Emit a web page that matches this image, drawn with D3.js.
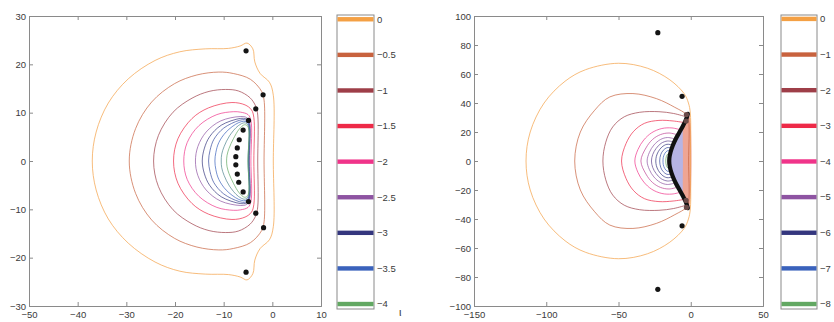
<!DOCTYPE html>
<html>
<head>
<meta charset="utf-8">
<script src="https://cdn.jsdelivr.net/npm/d3@7"></script>
<style>
	body { margin: 0; background: #fff; }
	svg { display: block; }
	text { font-family: "Liberation Sans", Arial, sans-serif; fill: #3a3a3a; }
</style>
</head>
<body>
<svg id="chart" width="834" height="322"></svg>
<script>

// colour bar levels, one colour for each
var leftLevels = [0, -0.5, -1, -1.5, -2, -2.5, -3, -3.5, -4];
var rightLevels = [0, -1, -2, -3, -4, -5, -6, -7, -8];
var levelColors = ['#f4a044', '#c8623e', '#9e3e48', '#ee2a48', '#f0348a', '#8e54a2', '#34367e', '#3a62bc', '#62a862'];

// tick labels
var leftXTicks = [-50, -40, -30, -20, -10, 0, 10];
var leftYTicks = [-30, -20, -10, 0, 10, 20, 30];
var rightXTicks = [-150, -100, -50, 0, 50];
var rightYTicks = [-100, -80, -60, -40, -20, 0, 20, 40, 60, 80, 100];

// left plot: sources
var leftDotX = [-5.4, -1.9, -3.4, -4.9, -6.0, -6.8, -7.2, -7.5, -7.5, -7.2, -6.9, -6.0, -4.9, -3.4, -1.8, -5.4];
var leftDotY = [22.8, 13.7, 10.8, 8.4, 6.4, 4.4, 2.7, 0.9, -0.8, -2.7, -4.4, -6.4, -8.4, -10.8, -13.8, -23.0];

// left plot: contour lines (closed)
var leftContourLevels = [0, -0.5, -1, -1.5, -2, -2.5, -3, -3.25, -3.5, -3.75, -4];
var leftContours = [
	[[0.2,0],[0.2,13.6],[-0.6,16.3],[-2.5,18.1],[-3.6,20.5],[-4.0,23.2],[-5.2,24.4],[-6.6,23.8],[-9,23.3],[-13.8,23.2],[-19,22.6],[-24.1,20.8],[-29.6,17],[-33.7,12],[-36.2,6],[-37,0],
		[-36.2,-6],[-33.7,-12],[-29.6,-17],[-24.1,-20.9],[-19,-22.8],[-13.8,-23.4],[-9,-23.5],[-6.6,-24],[-5.2,-24.6],[-4.0,-23.3],[-3.6,-20.5],[-2.5,-18.1],[-0.6,-16.3],[0.2,-13.6]],
	[[-1.7,0],[-1.7,12.6],[-2.2,14.4],[-4.5,16.9],[-8,18.1],[-11,18.4],[-15.5,17.8],[-20.1,16],[-24.8,12.2],[-28.1,6.7],[-29.4,0],
		[-28.1,-6.7],[-24.8,-12.2],[-20.1,-16],[-15.5,-17.8],[-11,-18.4],[-8,-18.1],[-4.5,-16.9],[-2.2,-14.4],[-1.7,-12.6]],
	[[-3,0],[-3,9.5],[-3.4,11.3],[-4.6,13.1],[-7,14.5],[-9.6,14.8],[-13,14.4],[-16.5,13],[-20.4,10.1],[-23.4,5.3],[-24.4,0],
		[-23.4,-5.3],[-20.4,-10.1],[-16.5,-13],[-13,-14.4],[-9.6,-14.8],[-7,-14.5],[-4.6,-13.1],[-3.4,-11.3],[-3,-9.5]],
	[[-3.8,0],[-3.8,9],[-4.3,10.6],[-5.6,11.6],[-8.3,12.1],[-13.1,11],[-16.5,8.8],[-19.4,4.6],[-20.3,0],
		[-19.4,-4.6],[-16.5,-8.8],[-13.1,-11],[-8.3,-12.1],[-5.6,-11.6],[-4.3,-10.6],[-3.8,-9]],
	[[-4.4,0],[-4.4,8.4],[-5,9.6],[-6.5,10.1],[-8,10.2],[-11.4,9.6],[-15.1,7.3],[-17.5,3.8],[-18.2,0],
		[-17.5,-3.8],[-15.1,-7.3],[-11.4,-9.6],[-8,-10.2],[-6.5,-10.1],[-5,-9.6],[-4.4,-8.4]],
	[[-4.7,0],[-4.7,8.2],[-5.3,9],[-6.6,9.2],[-10.6,8.3],[-13.6,6],[-15.3,3],[-15.8,0],
		[-15.3,-3],[-13.6,-6],[-10.6,-8.3],[-6.6,-9.2],[-5.3,-9],[-4.7,-8.2]],
	[[-4.8,0],[-4.8,8],[-5.4,8.7],[-6.6,8.8],[-10.5,7.4],[-12.9,5],[-14,2.5],[-14.4,0],
		[-14,-2.5],[-12.9,-5],[-10.5,-7.4],[-6.6,-8.8],[-5.4,-8.7],[-4.8,-8]],
	[[-4.9,0],[-4.9,7.8],[-5.5,8.5],[-6.8,8.4],[-10,6.8],[-12,4.5],[-12.8,2.2],[-13.1,0],
		[-12.8,-2.2],[-12,-4.5],[-10,-6.8],[-6.8,-8.4],[-5.5,-8.5],[-4.9,-7.8]],
	[[-4.9,0],[-4.9,7.6],[-5.6,8.2],[-7,7.9],[-9.5,6],[-11,3.8],[-11.6,1.8],[-11.8,0],
		[-11.6,-1.8],[-11,-3.8],[-9.5,-6],[-7,-7.9],[-5.6,-8.2],[-4.9,-7.6]],
	[[-5,0],[-5,7.4],[-5.7,7.9],[-7,7.3],[-8.8,5.2],[-9.9,3],[-10.4,1.4],[-10.5,0],
		[-10.4,-1.4],[-9.9,-3],[-8.8,-5.2],[-7,-7.3],[-5.7,-7.9],[-5,-7.4]],
	[[-5,0],[-5,7.1],[-5.7,7.5],[-6.8,6.6],[-8,4.6],[-8.9,2.6],[-9.3,1.2],[-9.4,0],
		[-9.3,-1.2],[-8.9,-2.6],[-8,-4.6],[-6.8,-6.6],[-5.7,-7.5],[-5,-7.1]]
];

// right plot: sources
var rightDotX = [-22.8, -6.0, -6.0, -22.8];
var rightDotY = [88.5, 44.6, -44.7, -88.5];
var rightEndX = [-3.0, -3.2, -3.2, -3.0];
var rightEndY = [32.0, 27.6, -27.2, -32.0];

// right plot: dense chain of sources (drawn as a thick arc)
var rightArc = [[-2,32.5],[-3.5,28],[-5.5,24],[-8,19.5],[-10.5,15],[-12.5,10.5],[-14,6],[-14.8,2],[-14.8,-2],[-14,-6],[-12.5,-10.5],[-10.5,-15],[-8,-19.5],[-5.5,-24],[-3.5,-28],[-2,-32.5]];

// right plot: tightly packed contours between the arc and the wall, seen as colour patches
var rightSalmon = [[-2,32.5],[-3.5,28],[-5.5,24],[-8,19.5],[-10.5,15],[-12.5,10.5],[-14,6],[-14.8,2],[-14.8,-2],[-14,-6],[-12.5,-10.5],[-10.5,-15],[-8,-19.5],[-5.5,-24],[-3.5,-28],[-2,-32.5],[-0.8,-31],[-0.8,31]];
var rightLavender = [[-6,22],[-8,19.5],[-10.5,15],[-12.5,10.5],[-14,6],[-14.8,2],[-14.8,-2],[-14,-6],[-12.5,-10.5],[-10.5,-15],[-8,-19.5],[-6,-22],[-5.5,-12],[-5.5,12]];

// right plot: contour lines; the first two are closed, the rest end on the arc
var rightContourLevels = [0, -1, -2, -3, -4, -4.5, -5, -5.5, -6, -6.5, -7, -8];
var rightContours = [
	[[-0.3,0],[-0.3,33],[-1.6,40],[-4.6,46.5],[-14.5,56],[-30,64],[-50,67.4],[-72.7,63],[-87,55],[-101.5,40],[-111.1,20],[-114,0],
		[-111.1,-20],[-101.5,-40],[-87,-55],[-72.7,-63],[-50,-67.4],[-30,-64],[-14.5,-56],[-4.6,-46.5],[-1.6,-40],[-0.3,-33]],
	[[-1.5,0],[-1.5,28],[-3,32],[-11,37],[-23.7,43],[-40,46.5],[-56,44.2],[-66.5,35],[-76.4,20],[-80.3,0],
		[-76.4,-20],[-66.5,-35],[-56,-44.2],[-40,-46.5],[-23.7,-43],[-11,-37],[-3,-32],[-1.5,-28]],
	[[-3.2,30.5],[-12,32.8],[-22,34],[-35.3,33.6],[-46,30.5],[-54,23.5],[-58.8,13],[-60.8,0],
		[-58.8,-13],[-54,-23.5],[-46,-30.5],[-35.3,-33.6],[-22,-34],[-12,-32.8],[-3.2,-30.5]],
	[[-4.5,26.5],[-12.2,27.6],[-22,28],[-32,26],[-39.5,20.5],[-44.8,12],[-47.9,0],
		[-44.8,-12],[-39.5,-20.5],[-32,-26],[-22,-28],[-12.2,-27.6],[-4.5,-26.5]],
	[[-7,21.5],[-13,22.8],[-20,22.4],[-27,19.5],[-32.5,14.5],[-36.5,8],[-38.7,0],
		[-36.5,-8],[-32.5,-14.5],[-27,-19.5],[-20,-22.4],[-13,-22.8],[-7,-21.5]],
	[[-9,18],[-15,19.3],[-21,18.2],[-26.5,14.8],[-31,9],[-34.5,0],
		[-31,-9],[-26.5,-14.8],[-21,-18.2],[-15,-19.3],[-9,-18]],
	[[-10.5,15],[-16,16.2],[-21,14.8],[-25.5,11],[-28.6,6],[-30.2,0],
		[-28.6,-6],[-25.5,-11],[-21,-14.8],[-16,-16.2],[-10.5,-15]],
	[[-11.5,13],[-16,13.8],[-20.5,12.2],[-24,8.6],[-26.3,4.5],[-27.2,0],
		[-26.3,-4.5],[-24,-8.6],[-20.5,-12.2],[-16,-13.8],[-11.5,-13]],
	[[-12.5,11],[-16.5,11.5],[-20,9.6],[-22.5,6.4],[-23.8,3.2],[-24.2,0],
		[-23.8,-3.2],[-22.5,-6.4],[-20,-9.6],[-16.5,-11.5],[-12.5,-11]],
	[[-13.2,9],[-16.5,9.2],[-19,7.4],[-20.7,4.6],[-21.5,0],
		[-20.7,-4.6],[-19,-7.4],[-16.5,-9.2],[-13.2,-9]],
	[[-13.8,7],[-16.3,7],[-18.1,5],[-19,2.5],[-19.2,0],
		[-19,-2.5],[-18.1,-5],[-16.3,-7],[-13.8,-7]],
	[[-14.3,5],[-15.9,4.8],[-16.9,3],[-17.3,0],
		[-16.9,-3],[-15.9,-4.8],[-14.3,-5]]
];

var svg = d3.select('#chart');

function minus(v){
	return String(v).replace('-', '\u2212');
}

// box with inward ticks on every side, labels on left and bottom
function drawFrame(g, x, y, xTicks, yTicks){
	var x0 = x.range()[0], x1 = x.range()[1];
	var y0 = y.range()[0], y1 = y.range()[1];
	g.append('g').attr('transform', 'translate(0,' + y0 + ')')
		.call(d3.axisBottom(x).tickValues(xTicks).tickSize(-4).tickPadding(5).tickFormat(minus));
	g.append('g').attr('transform', 'translate(0,' + y1 + ')')
		.call(d3.axisTop(x).tickValues(xTicks).tickSize(-4).tickFormat(''));
	g.append('g').attr('transform', 'translate(' + x0 + ',0)')
		.call(d3.axisLeft(y).tickValues(yTicks).tickSize(-4).tickPadding(3).tickFormat(minus));
	g.append('g').attr('transform', 'translate(' + x1 + ',0)')
		.call(d3.axisRight(y).tickValues(yTicks).tickSize(-4).tickFormat(''));
	g.selectAll('.domain').attr('stroke', '#8a8a8a');
	g.selectAll('.tick line').attr('stroke', '#8a8a8a');
	g.selectAll('.tick text').attr('font-size', 9.5).attr('fill', '#3a3a3a');
	// top/right axes carry no text
	g.selectAll('.tick text').filter(function(){ return this.textContent === ''; }).remove();
}

function drawColorbar(g, levels, x0, x1, yTop, yBottom, domainTop, domainBottom){
	var cy = d3.scaleLinear().domain([domainTop, domainBottom]).range([yTop, yBottom]);
	var color = d3.scaleLinear().domain(levels).range(levelColors);
	g.append('rect')
		.attr('x', x0).attr('y', yTop)
		.attr('width', x1 - x0).attr('height', yBottom - yTop)
		.attr('fill', '#fff').attr('stroke', '#8a8a8a');
	g.selectAll('rect.band')
		.data(levels)
		.enter()
		.append('rect')
		.attr('class', 'band')
		.attr('x', x0 + 0.5)
		.attr('width', x1 - x0 - 1)
		.attr('y', function(d){ return cy(d) - 2.2; })
		.attr('height', 4.4)
		.attr('fill', function(d){ return color(d); });
	g.selectAll('text.cb')
		.data(levels)
		.enter()
		.append('text')
		.attr('class', 'cb')
		.attr('x', x1 + 3)
		.attr('y', function(d){ return cy(d); })
		.attr('dy', '0.35em')
		.attr('font-size', 9.5)
		.text(minus);
}

// ---------- left panel ----------
var lx = d3.scaleLinear().domain([-50, 10]).range([29, 321]);
var ly = d3.scaleLinear().domain([-30, 30]).range([306, 16]);
var left = svg.append('g');
var leftColor = d3.scaleLinear().domain(leftLevels).range(levelColors);
var leftLine = d3.line()
	.x(function(d){ return lx(d[0]); })
	.y(function(d){ return ly(d[1]); })
	.curve(d3.curveCatmullRomClosed.alpha(0.5));

left.append('g').selectAll('path')
	.data(leftContours)
	.enter()
	.append('path')
	.attr('d', leftLine)
	.attr('fill', 'none')
	.attr('stroke', function(d, i){ return leftColor(leftContourLevels[i]); })
	.attr('stroke-opacity', 0.7)
	.attr('stroke-width', 1);

left.append('g').selectAll('circle')
	.data(d3.range(leftDotX.length))
	.enter()
	.append('circle')
	.attr('cx', function(i){ return lx(leftDotX[i]); })
	.attr('cy', function(i){ return ly(leftDotY[i]); })
	.attr('r', 2.6)
	.attr('fill', '#141414');

drawFrame(left, lx, ly, leftXTicks, leftYTicks);
drawColorbar(svg.append('g'), leftLevels, 337, 374, 15, 309, 0.06, -4.07);
// stray glyph under the colour bar
svg.append('text').attr('x', 399).attr('y', 316).attr('font-size', 11).attr('fill', '#555').text('\u03b9');

// ---------- right panel ----------
var rx = d3.scaleLinear().domain([-150, 50]).range([474, 763]);
var ry = d3.scaleLinear().domain([-100, 100]).range([306, 16]);
var right = svg.append('g');
var rightColor = d3.scaleLinear().domain(rightLevels).range(levelColors);
var rLine = d3.line()
	.x(function(d){ return rx(d[0]); })
	.y(function(d){ return ry(d[1]); });

right.append('path')
	.attr('d', rLine.curve(d3.curveCatmullRomClosed.alpha(0.5))(rightSalmon))
	.attr('fill', '#eea594');
right.append('path')
	.attr('d', rLine.curve(d3.curveCatmullRomClosed.alpha(0.5))(rightLavender))
	.attr('fill', '#b6b4e4');

right.append('g').selectAll('path')
	.data(rightContours)
	.enter()
	.append('path')
	.attr('d', function(d, i){
		var c = i < 2 ? d3.curveCatmullRomClosed.alpha(0.5) : d3.curveCatmullRom.alpha(0.5);
		return rLine.curve(c)(d);
	})
	.attr('fill', 'none')
	.attr('stroke', function(d, i){ return rightColor(rightContourLevels[i]); })
	.attr('stroke-opacity', 0.7)
	.attr('stroke-width', 1);

right.append('path')
	.attr('d', rLine.curve(d3.curveCatmullRom.alpha(0.5))(rightArc))
	.attr('fill', 'none')
	.attr('stroke', '#111')
	.attr('stroke-width', 4.2)
	.attr('stroke-linecap', 'round');

right.append('g').selectAll('circle')
	.data(d3.range(rightEndX.length))
	.enter()
	.append('circle')
	.attr('cx', function(i){ return rx(rightEndX[i]); })
	.attr('cy', function(i){ return ry(rightEndY[i]); })
	.attr('r', 2.6)
	.attr('fill', '#6a4a48');

right.append('g').selectAll('circle.src')
	.data(d3.range(rightDotX.length))
	.enter()
	.append('circle')
	.attr('class', 'src')
	.attr('cx', function(i){ return rx(rightDotX[i]); })
	.attr('cy', function(i){ return ry(rightDotY[i]); })
	.attr('r', 2.6)
	.attr('fill', '#141414');

drawFrame(right, rx, ry, rightXTicks, rightYTicks);
drawColorbar(svg.append('g'), rightLevels, 781, 817, 15, 309, 0.11, -8.14);

</script>
</body>
</html>
